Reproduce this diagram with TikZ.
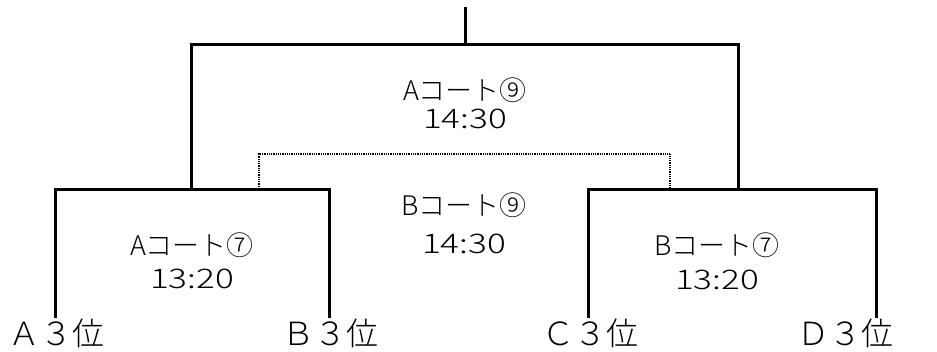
\documentclass[tikz,border=0pt]{standalone}
\usepackage{fontspec}
\usepackage{graphicx}
\setmainfont{Noto Sans CJK JP Light}
\newcommand{\widetime}[1]{\scalebox{1.3}[1]{#1}}
\begin{document}
\begin{tikzpicture}[x=1pt,y=-1pt,
  bracket/.style={line width=3pt,line cap=rect},
  dotline/.style={line width=2.5pt,dash pattern=on 1pt off 0.8pt},
  lbl/.style={anchor=base,inner sep=0pt,font=\fontsize{27}{30}\selectfont},
  team/.style={anchor=base,inner sep=0pt,font=\fontsize{32}{36}\selectfont}]
\useasboundingbox (0,0) rectangle (937,351);
% coordinates
\coordinate (top) at (465,8);
\coordinate (tm) at (465,44);
\coordinate (tl) at (191,44);
\coordinate (tr) at (738,44);
\coordinate (ljoin) at (191,189);
\coordinate (rjoin) at (738,189);
\coordinate (l1) at (55,189);
\coordinate (l2) at (329,189);
\coordinate (r1) at (588,189);
\coordinate (r2) at (876,189);
\coordinate (l1b) at (55,316);
\coordinate (l2b) at (329,316);
\coordinate (r1b) at (588,316);
\coordinate (r2b) at (876,316);
\coordinate (dl) at (259,189);
\coordinate (dr) at (670,189);
\coordinate (dlt) at (259,154);
\coordinate (drt) at (670,154);
% solid brackets
\draw[bracket] (top) -- (tm);
\draw[bracket] (ljoin) -- (tl) -- (tr) -- (rjoin);
\draw[bracket] (l1b) -- (l1) -- (l2) -- (l2b);
\draw[bracket] (r1b) -- (r1) -- (r2) -- (r2b);
% dotted bracket
\draw[dotline] (dl) -- (dlt) -- (drt) -- (dr);
% labels
\node[lbl] (fa) at (465,100) {Aコート⑨};
\node[lbl] (fat) at (465,128) {\widetime{14:30}};
\node[lbl] (fb) at (464,215) {Bコート⑨};
\node[lbl] (fbt) at (464,253) {\widetime{14:30}};
\node[lbl] (sa) at (192,255) {Aコート⑦};
\node[lbl] (sat) at (192,288) {\widetime{13:20}};
\node[lbl] (sb) at (717,255) {Bコート⑦};
\node[lbl] (sbt) at (717,289) {\widetime{13:20}};
\node[team] (ta) at (57,345) {Ａ３位};
\node[team] (tb) at (330,345) {Ｂ３位};
\node[team] (tc) at (590,345) {Ｃ３位};
\node[team] (td) at (845,345) {Ｄ３位};
\end{tikzpicture}
\end{document}
